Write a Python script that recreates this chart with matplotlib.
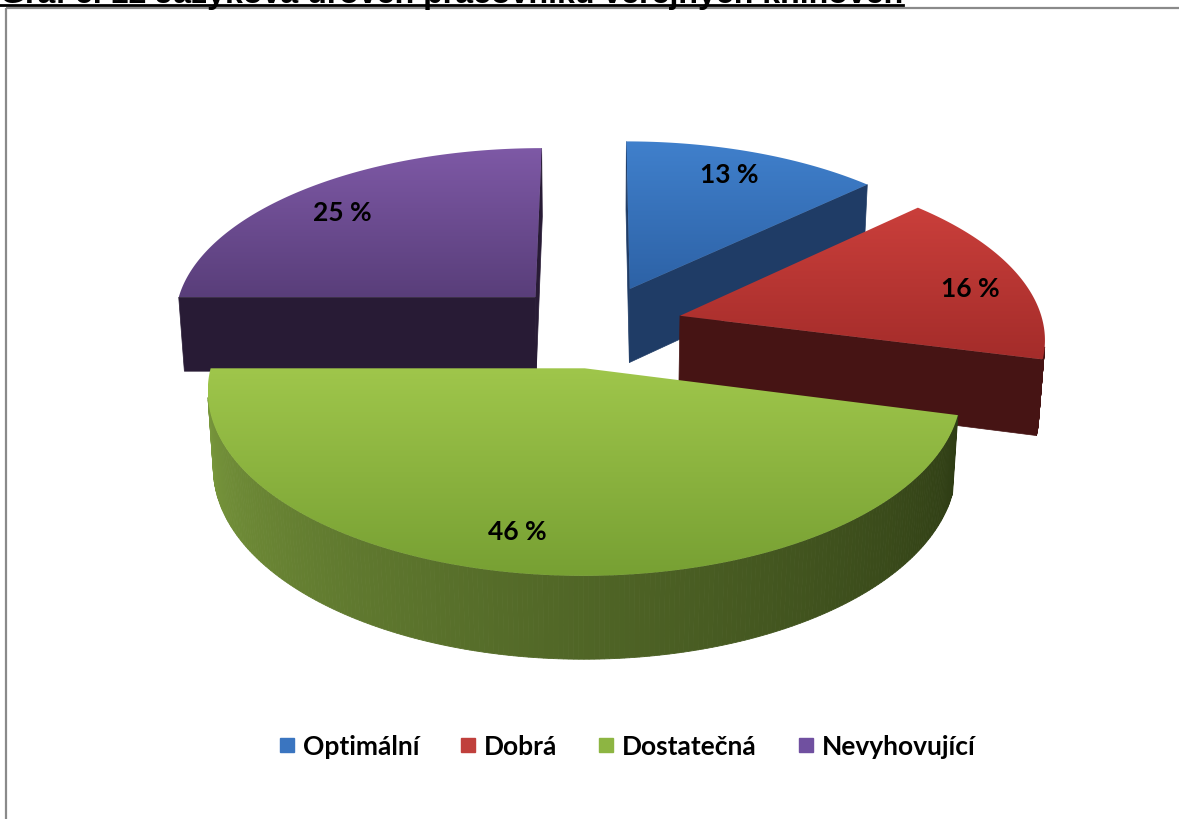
import numpy as np
import matplotlib
matplotlib.use("Agg")
import matplotlib.pyplot as plt
from matplotlib.patches import Polygon, Rectangle
from matplotlib.lines import Line2D
from matplotlib.colors import to_rgb

title = "Graf č. 12 Jazyková úroveň pracovníků veřejných knihoven"
categories = ["Optimální", "Dobrá", "Dostatečná", "Nevyhovující"]
values = [13, 16, 46, 25]
labels = ["13 %", "16 %", "46 %", "25 %"]

# face colours per slice: top gradient (light -> dark) and cut/side faces
top_light = ["#4080CC", "#CA3F3B", "#9FC64B", "#7E59A6"]
top_dark = ["#2D62A6", "#A42C2A", "#77A033", "#593E7A"]
side_col = ["#1F3C66", "#461414", "#4E6624", "#281B35"]
legend_col = ["#3A75C0", "#C0403C", "#8DB542", "#7050A0"]

# label placement along the slice bisector (radius, extra angle)
label_r = [0.82, 0.84, 0.82, 0.80]
label_da = [-1, 3, 4, -2]

W, H = 1179, 820

# simple perspective camera looking down on the pie
sin_t, cos_t = 0.463, 0.886
dist = 7.62
focal = 2843.0
xscale = 0.975
cx, cy = 596.0, 327.0
thick = 0.23
explode = 0.24
cam = np.array([0.0, -dist * cos_t, dist * sin_t])


def proj(x, y, z):
    x = np.asarray(x, float)
    y = np.asarray(y, float)
    z = np.asarray(z, float)
    depth = dist + y * cos_t - z * sin_t
    up = y * sin_t + z * cos_t
    return cx + xscale * focal * x / depth, cy - focal * up / depth


def poly(xs, ys, zs):
    px, py = proj(xs, ys, zs)
    return np.column_stack([px, py])


def mix(c1, c2, t):
    a = np.array(to_rgb(c1))
    b = np.array(to_rgb(c2))
    return tuple(a + (b - a) * t)


fig = plt.figure(figsize=(W / 100, H / 100), dpi=100)
ax = fig.add_axes([0, 0, 1, 1])
ax.set_xlim(0, W)
ax.set_ylim(H, 0)
ax.axis("off")

# chart frame
ax.add_patch(Rectangle((6, 8.5), 1400, 1000, fill=False, edgecolor="#8a8a8a", lw=1.6))

fracs = np.array(values, float) / sum(values)
starts = 360 * np.concatenate([[0], np.cumsum(fracs)[:-1]])
ends = starts + 360 * fracs

order = [3, 0, 1, 2]
for i in order:
    s, e = starts[i], ends[i]
    mid = np.radians((s + e) / 2)
    ox, oy = explode * np.sin(mid), explode * np.cos(mid)
    t = np.radians(np.linspace(s, e, 240))
    rx, ry = ox + np.sin(t), oy + np.cos(t)
    to_cam = cam - np.array([ox, oy, 0])

    # cut faces
    for ang, sign in ((s, -1), (e, 1)):
        a = np.radians(ang)
        n = np.array([sign * np.cos(a), -sign * np.sin(a), 0])
        if n @ to_cam <= 0:
            continue
        ex, ey = ox + np.sin(a), oy + np.cos(a)
        pts = poly([ox, ex, ex, ox], [oy, ey, ey, oy], [0, 0, -thick, -thick])
        ax.add_patch(Polygon(pts, closed=True, facecolor=side_col[i], edgecolor=side_col[i], lw=0.5))

    # outer rim
    for k in range(len(t) - 1):
        tm = (t[k] + t[k + 1]) / 2
        n = np.array([np.sin(tm), np.cos(tm), 0])
        p = np.array([ox + np.sin(tm), oy + np.cos(tm), 0])
        if n @ (cam - p) <= 0:
            continue
        if i == 2:
            deg = np.degrees(tm)
            u = np.clip((270 - deg) / 166.0, 0, 1)
            col = mix("#7E9E3F", "#2E3C14", u ** 0.9)
        else:
            col = side_col[i]
        xs = [rx[k], rx[k + 1], rx[k + 1], rx[k]]
        ys = [ry[k], ry[k + 1], ry[k + 1], ry[k]]
        pts = poly(xs, ys, [0, 0, -thick, -thick])
        ax.add_patch(Polygon(pts, closed=True, facecolor=col, edgecolor=col, lw=0.6))

    # top face with vertical gradient
    top = poly(np.r_[ox, rx], np.r_[oy, ry], np.zeros(len(rx) + 1))
    patch = Polygon(top, closed=True, facecolor="none", edgecolor="none")
    ax.add_patch(patch)
    x0, x1 = top[:, 0].min(), top[:, 0].max()
    y0, y1 = top[:, 1].min(), top[:, 1].max()
    g = np.linspace(0, 1, 256)[:, None]
    c1 = np.array(to_rgb(top_light[i]))
    c2 = np.array(to_rgb(top_dark[i]))
    img = c1[None, None, :] + (c2 - c1)[None, None, :] * g[:, :, None]
    img = np.repeat(img, 2, axis=1)
    im = ax.imshow(img, extent=(x0, x1, y1, y0), origin="upper", aspect="auto",
                   interpolation="bilinear", zorder=2)
    im.set_clip_path(patch)
    im.set_zorder(patch.get_zorder())

    # value label
    la = mid + np.radians(label_da[i])
    lx, ly = proj(ox + label_r[i] * np.sin(la), oy + label_r[i] * np.cos(la), 0)
    ax.text(lx, ly, labels[i], ha="center", va="center", fontsize=19,
            fontfamily="Lato", fontweight="bold", color="black", zorder=10)

ax.set_xlim(0, W)
ax.set_ylim(H, 0)

# legend
handles = [Line2D([], [], marker="s", ls="none", markersize=10,
                  markerfacecolor=c, markeredgecolor=c) for c in legend_col]
fig.legend(handles, categories, loc="center", bbox_to_anchor=(0.532, 0.089), ncol=4,
           frameon=False, prop={"family": "Lato", "weight": "bold", "size": 19},
           handlelength=0.6, handletextpad=0.3, columnspacing=1.55)

# title, cut at the top edge, with underline
ttl = fig.text(0.0, 1 - 3.0 / H, title, ha="left", va="baseline", fontsize=20,
               fontfamily="Liberation Sans", fontweight="bold")
fig.canvas.draw()
bb = ttl.get_window_extent()
ttl.set_fontsize(20 * 905.0 / bb.width)
fig.canvas.draw()
bb = ttl.get_window_extent()
fig.add_artist(Line2D([0, bb.x1 / W], [1 - 5.8 / H, 1 - 5.8 / H], transform=fig.transFigure,
                      color="black", lw=2.0))

fig.savefig("out.png", dpi=100)
